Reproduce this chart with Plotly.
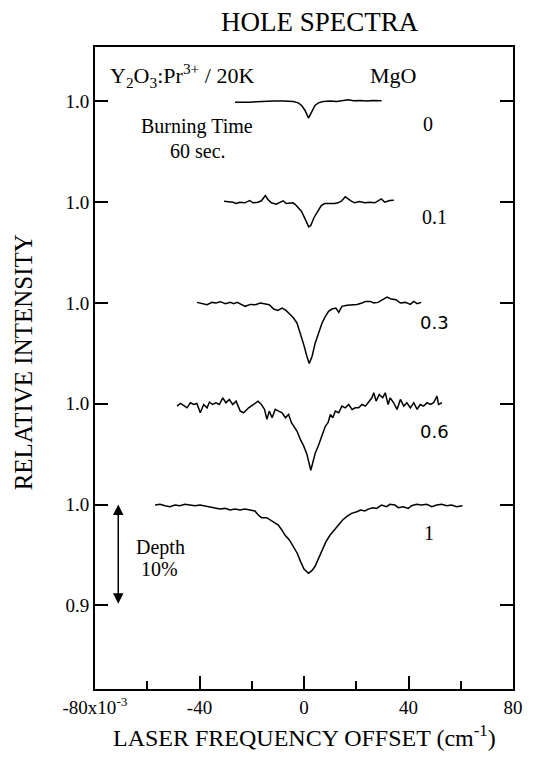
import plotly.graph_objects as go

# ---------------- data ----------------
mgo_labels = ["0", "0.1", "0.3", "0.6", "1"]
offsets = [0.4, 0.3, 0.2, 0.1, 0.0]          # vertical stacking of each spectrum

x_mgo0 = [-26.4, -23.2, -20.7, -18.1, -15.6, -11.7, -7.9, -4.1, -2.2, -0.9, 0.4, 1.7,
          2.9, 4.2, 5.5, 7.4, 10.0, 12.5, 15.0, 17.0, 18.9, 21.4, 24.0, 26.5, 29.7]
y_mgo0 = [0.9993, 0.9990, 0.9993, 0.9996, 1.0000, 1.0003, 1.0003, 1.0000, 0.9986, 0.9960, 0.9910, 0.9835,
          0.9894, 0.9960, 0.9986, 1.0000, 1.0003, 1.0000, 1.0010, 1.0016, 1.0006, 1.0010, 1.0003, 1.0010, 1.0006]

x_mgo01 = [-30.6, -29.1, -27.2, -25.9, -24.6, -22.7, -20.8, -19.5, -17.6, -16.3, -14.8, -13.8,
           -12.5, -10.6, -9.3, -8.0, -6.8, -5.5, -4.2, -3.3, -2.3, -1.0, 0.5, 1.8, 2.6, 3.8,
           5.1, 6.6, 7.9, 9.8, 11.7, 13.0, 14.3, 15.8, 17.1, 18.1, 19.4, 21.3, 23.2, 25.1,
           27.1, 28.3, 29.6, 30.9, 32.8, 34.4]
y_mgo01 = [1.0010, 1.0004, 1.0000, 0.9987, 1.0000, 0.9994, 1.0017, 0.9994, 1.0000, 1.0014, 1.0066, 1.0027,
           0.9994, 0.9980, 0.9994, 1.0014, 0.9987, 0.9987, 0.9994, 0.9977, 0.9944, 0.9911, 0.9829, 0.9756, 0.9769, 0.9846,
           0.9902, 0.9967, 0.9987, 0.9984, 0.9987, 0.9994, 1.0010, 1.0053, 1.0027, 1.0010, 0.9994, 1.0007, 0.9994, 1.0000,
           0.9994, 1.0010, 1.0033, 1.0000, 1.0017, 1.0020]

x_mgo03 = [-41.0, -39.0, -37.1, -35.2, -33.7, -32.0, -30.1, -28.2, -26.9, -25.6, -24.0, -22.5,
           -20.5, -18.6, -16.7, -14.8, -13.3, -11.6, -10.0, -8.4, -6.9, -5.2, -4.0, -2.7, -1.4,
           -0.1, 1.1, 2.0, 3.1, 4.3, 5.6, 6.9, 8.2, 9.4, 10.7, 12.2, 13.3, 14.5, 16.5, 18.4,
           20.3, 22.2, 23.5, 25.4, 26.7, 28.3, 30.1, 31.8, 33.4, 35.2, 36.9, 38.8, 40.7, 42.0,
           43.3, 44.9]
y_mgo03 = [1.0006, 0.9993, 0.9983, 1.0006, 1.0000, 1.0013, 0.9993, 1.0006, 0.9993, 1.0006, 0.9983, 0.9967,
           0.9986, 0.9983, 1.0000, 0.9993, 0.9983, 0.9940, 0.9927, 0.9950, 0.9927, 0.9884, 0.9851, 0.9802, 0.9703,
           0.9587, 0.9472, 0.9400, 0.9472, 0.9604, 0.9703, 0.9802, 0.9868, 0.9917, 0.9940, 0.9950, 0.9907, 0.9967, 0.9977, 0.9983,
           0.9986, 1.0000, 1.0016, 1.0016, 1.0000, 1.0006, 1.0033, 1.0059, 1.0039, 1.0033, 1.0000, 1.0006, 0.9986, 1.0016,
           0.9993, 1.0006]

x_mgo06 = [-48.6, -47.3, -46.1, -44.8, -43.5, -42.2, -41.0, -39.7, -38.4, -37.1, -36.2, -35.0,
           -33.7, -32.4, -31.1, -29.9, -28.6, -27.3, -26.0, -24.4, -23.1, -21.2, -19.3, -17.6,
           -16.3, -15.1, -14.2, -13.3, -12.2, -11.0, -9.7, -8.4, -7.1, -5.9, -4.8, -4.0, -2.7,
           -1.4, -0.1, 1.1, 2.0, 2.6, 3.3, 4.3, 5.6, 6.9, 8.2, 9.2, 10.1, 11.0, 12.0, 13.3,
           14.5, 15.8, 17.1, 18.4, 19.6, 20.9, 22.2, 23.5, 24.8, 26.0, 26.7, 27.6, 28.8, 30.1,
           31.1, 32.2, 33.0, 34.3, 35.6, 36.9, 38.2, 39.4, 40.7, 42.0, 43.3, 44.5, 45.8, 47.1,
           48.4, 49.6, 50.9, 51.5, 52.8]
y_mgo06 = [0.9977, 1.0003, 0.9983, 0.9960, 1.0010, 0.9993, 1.0003, 0.9911, 0.9993, 0.9960, 1.0017, 0.9993,
           1.0010, 0.9993, 1.0059, 1.0010, 1.0043, 0.9993, 1.0026, 0.9927, 0.9911, 0.9960, 0.9993, 1.0026,
           0.9993, 0.9944, 0.9845, 0.9927, 0.9861, 0.9944, 0.9927, 0.9911, 0.9861, 0.9894, 0.9812, 0.9779, 0.9729,
           0.9647, 0.9580, 0.9500, 0.9410, 0.9340, 0.9410, 0.9510, 0.9590, 0.9680, 0.9779, 0.9812, 0.9894, 0.9861, 0.9927, 0.9911,
           0.9977, 0.9960, 0.9993, 0.9944, 0.9960, 0.9960, 0.9993, 0.9977, 1.0026, 1.0059, 1.0109, 1.0026, 1.0092, 1.0059,
           1.0109, 0.9993, 1.0059, 1.0010, 0.9944, 1.0043, 0.9977, 1.0010, 0.9960, 1.0010, 0.9944, 0.9993, 0.9977, 1.0010,
           0.9993, 1.0010, 1.0076, 0.9993, 1.0010]

x_mgo1 = [-57.0, -55.1, -53.2, -51.3, -49.4, -47.5, -45.6, -43.6, -41.7, -39.8, -37.9, -36.0,
          -34.1, -32.2, -30.2, -28.3, -26.4, -24.5, -22.6, -20.7, -18.8, -17.5, -16.2, -14.3,
          -12.8, -11.1, -9.8, -8.5, -7.3, -5.6, -4.1, -2.6, -1.3, 0.0, 1.7, 2.9, 4.2, 5.5,
          6.8, 8.4, 10.0, 11.5, 13.1, 14.8, 16.3, 18.2, 20.2, 21.7, 23.3, 24.6, 26.3, 27.8,
          29.7, 31.6, 32.9, 34.8, 36.1, 38.0, 39.9, 41.2, 43.1, 45.0, 47.0, 48.9, 50.8, 52.7,
          54.6, 56.5, 58.4, 60.7]
y_mgo1 = [0.9995, 1.0002, 0.9988, 0.9979, 0.9995, 0.9988, 1.0002, 0.9995, 0.9988, 0.9995, 0.9985, 0.9969,
          0.9962, 0.9955, 0.9962, 0.9946, 0.9955, 0.9946, 0.9955, 0.9946, 0.9936, 0.9896, 0.9870, 0.9870,
          0.9847, 0.9814, 0.9797, 0.9748, 0.9698, 0.9649, 0.9583, 0.9517, 0.9434, 0.9361, 0.9319, 0.9342, 0.9385, 0.9467,
          0.9550, 0.9632, 0.9698, 0.9748, 0.9797, 0.9847, 0.9880, 0.9913, 0.9929, 0.9946, 0.9936, 0.9955, 0.9969, 0.9962,
          0.9995, 0.9979, 1.0002, 0.9995, 0.9969, 0.9979, 0.9962, 0.9988, 1.0002, 0.9995, 1.0002, 0.9979, 0.9995, 1.0002,
          0.9988, 0.9995, 0.9979, 0.9988]

spectra_x = [x_mgo0, x_mgo01, x_mgo03, x_mgo06, x_mgo1]
spectra_y = [y_mgo0, y_mgo01, y_mgo03, y_mgo06, y_mgo1]

y_tickvals = [0.9, 1.0, 1.1, 1.2, 1.3, 1.4]
y_ticktext = ["0.9", "1.0", "1.0", "1.0", "1.0", "1.0"]
x_tickvals = [-80, -40, 0, 40, 80]
x_ticktext = ["-80x10<sup>-3</sup>", "-40", "0", "40", "80"]

# label positions for the MgO concentrations (data coords)
mgo_label_x = [47.5, 50.1, 50.0, 50.0, 47.8]
mgo_label_y = [1.378, 1.2855, 1.1806, 1.0724, 0.972]

SERIF = "Liberation Serif, Times New Roman, serif"

fig = go.Figure()
for xs, ys, off, name in zip(spectra_x, spectra_y, offsets, mgo_labels):
    fig.add_trace(go.Scatter(
        x=xs, y=[v + off for v in ys], mode="lines",
        line=dict(color="black", width=1.5), name=name, showlegend=False,
        hoverinfo="skip"))

annotations = []
for lx, ly, lab in zip(mgo_label_x, mgo_label_y, mgo_labels):
    fam = "DejaVu Sans, sans-serif" if lab in ("0.3", "0.6") else SERIF
    size = 18 if lab in ("0.3", "0.6") else 20
    annotations.append(dict(x=lx, y=ly, xref="x", yref="y", text=lab, showarrow=False,
                            xanchor="center", yanchor="middle",
                            font=dict(family=fam, size=size, color="black")))

annotations += [
    dict(x=0.538, y=1.039, xref="paper", yref="paper", text="HOLE SPECTRA",
         xanchor="center", yanchor="middle",
         showarrow=False, font=dict(family=SERIF, size=27, color="black")),
    dict(x=-0.172, y=0.509, xref="paper", yref="paper", text="RELATIVE INTENSITY",
         xanchor="center", yanchor="middle",
         textangle=-90, showarrow=False, font=dict(family=SERIF, size=25, color="black")),
    dict(x=0.5, y=-0.0725, xref="paper", yref="paper",
         text="LASER FREQUENCY OFFSET (cm<sup>-1</sup>)",
         xanchor="center", yanchor="middle",
         showarrow=False, font=dict(family=SERIF, size=24, color="black")),
    dict(x=-75.0, y=1.426, xref="x", yref="y", xanchor="left", yanchor="middle",
         text="Y<sub>2</sub>O<sub>3</sub>:Pr<sup>3+</sup> / 20K",
         showarrow=False, font=dict(family=SERIF, size=22, color="black")),
    dict(x=34.1, y=1.426, xref="x", yref="y", text="MgO", xanchor="center", yanchor="middle",
         showarrow=False, font=dict(family=SERIF, size=22, color="black")),
    dict(x=-41.0, y=1.375, xref="x", yref="y", text="Burning Time", xanchor="center", yanchor="middle",
         showarrow=False, font=dict(family=SERIF, size=20, color="black")),
    dict(x=-40.6, y=1.351, xref="x", yref="y", text="60 sec.", xanchor="center", yanchor="middle",
         showarrow=False, font=dict(family=SERIF, size=20, color="black")),
    dict(x=-55.1, y=0.957, xref="x", yref="y", text="Depth", xanchor="center", yanchor="middle",
         showarrow=False, font=dict(family=SERIF, size=20, color="black")),
    dict(x=-55.4, y=0.936, xref="x", yref="y", text="10%", xanchor="center", yanchor="middle",
         showarrow=False, font=dict(family=SERIF, size=20, color="black")),
    dict(x=-71.1, y=1.0, ax=-71.1, ay=0.9, xref="x", yref="y", axref="x", ayref="y",
         text="", showarrow=True, arrowside="end+start", arrowhead=2, startarrowhead=2,
         arrowsize=1.4, startarrowsize=1.4, arrowwidth=1.5, arrowcolor="black"),
]

fig.update_layout(
    width=534, height=757,
    margin=dict(l=95, r=21, t=47, b=68),
    paper_bgcolor="white", plot_bgcolor="white",
    annotations=annotations,
    showlegend=False,
)

fig.update_xaxes(
    range=[-80, 80], tickvals=x_tickvals, ticktext=x_ticktext,
    ticks="inside", ticklen=13, tickwidth=2, tickcolor="black",
    minor=dict(tickvals=[-60, -20, 20, 60], ticks="inside", ticklen=8, tickwidth=1.5, tickcolor="black"),
    showline=True, linewidth=2, linecolor="black", mirror=True,
    showgrid=False, zeroline=False,
    tickfont=dict(family=SERIF, size=19, color="black"),
)
fig.update_yaxes(
    range=[0.817, 1.454], tickvals=y_tickvals, ticktext=y_ticktext,
    ticks="inside", ticklen=13, tickwidth=2, tickcolor="black",
    showline=True, linewidth=2, linecolor="black", mirror="ticks",
    showgrid=False, zeroline=False,
    tickfont=dict(family=SERIF, size=19, color="black"),
)

fig.write_html("out.html")
